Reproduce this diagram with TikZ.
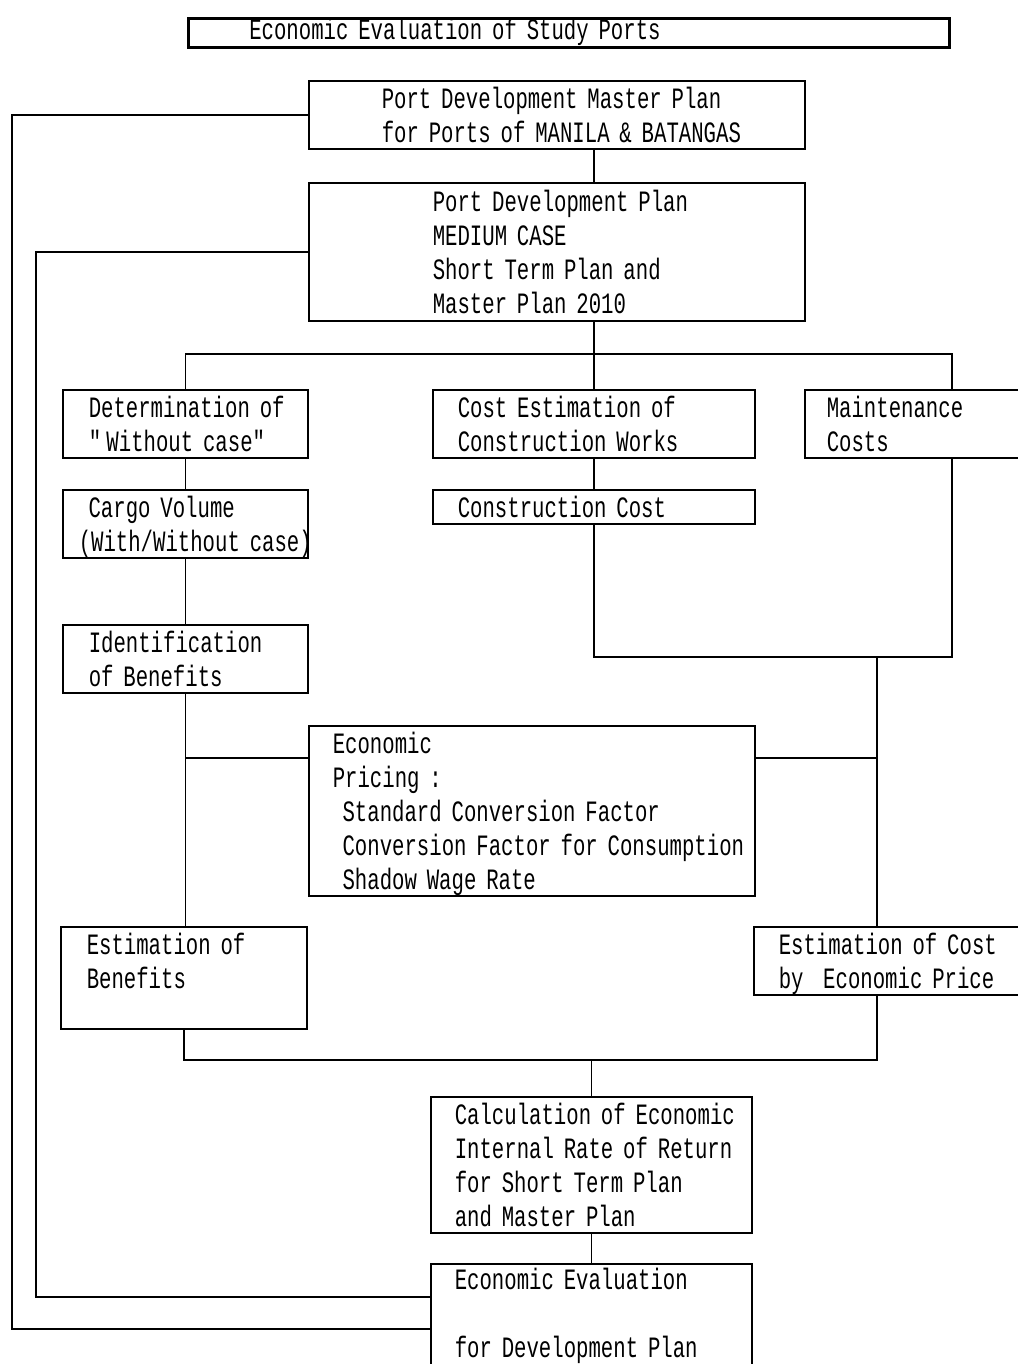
\documentclass[tikz,border=0pt]{standalone}
\usepackage{fontspec}
\setmainfont{Liberation Mono}[FakeStretch=0.7]
\usetikzlibrary{positioning}
\newcommand{\boxlines}[2][-0.8mm]{\raisebox{#1}[\height][\depth]{\begin{tabular}{@{}l@{}}#2\end{tabular}}}

\begin{document}
\begin{tikzpicture}[x=0.2mm, y=-0.2mm,
  box/.style={rectangle, draw, line width=0.3mm, inner sep=0pt, anchor=north west,
    font=\fontsize{16.8pt}{19.4pt}\selectfont},
  link/.style={line width=0.3mm},
]
\useasboundingbox (0,0) rectangle (1018,1364);
\clip (0,0) rectangle (1018,1364);

% === Title ===
\node[box, line width=0.5mm, font=\fontsize{16.8pt}{15pt}\selectfont, minimum width=152.2mm, minimum height=5.4mm, text width=127.8mm] (title) at (187,17) {\boxlines[0mm]{Economic Evaluation of Study Ports}};

% === Plans ===
\node[box, minimum width=99.2mm, minimum height=13.6mm, text width=70mm] (pdmp) at (308,80) {\boxlines{Port Development Master Plan\\for Ports of MANILA \& BATANGAS}};
\node[box, minimum width=99.2mm, minimum height=27.6mm, text width=49.6mm] (pdp) at (308,182) {\boxlines{Port Development Plan\\MEDIUM CASE\\Short Term Plan and\\Master Plan 2010}};

% === Benefit side ===
\node[box, minimum width=49mm, minimum height=13.4mm, text width=38.6mm] (det) at (62,389) {\boxlines{Determination of\\\textquotedbl Without case\textquotedbl}};
\node[box, minimum width=49mm, minimum height=13.4mm, text width=42.6mm] (cargo) at (62,489) {\boxlines{\ Cargo Volume\\(With/Without case)}};
\node[box, minimum width=49mm, minimum height=13.4mm, text width=38.6mm] (ident) at (62,624) {\boxlines{Identification\\of Benefits}};
\node[box, minimum width=49.2mm, minimum height=20.4mm, text width=38.8mm] (estben) at (60,926) {\boxlines{Estimation of\\Benefits\\\mbox{}}};

% === Cost side ===
\node[box, minimum width=64.4mm, minimum height=13.4mm, text width=54.4mm] (cost) at (432,389) {\boxlines{Cost Estimation of\\Construction Works}};
\node[box, minimum width=64.4mm, minimum height=6.8mm, text width=54.4mm] (constr) at (432,489) {\boxlines{Construction Cost}};
\node[box, minimum width=58.8mm, minimum height=13.4mm, text width=50mm] (maint) at (804,389) {\boxlines{Maintenance\\Costs}};
\node[box, minimum width=58.8mm, minimum height=13.6mm, text width=48.8mm] (estcost) at (753,926) {\boxlines{Estimation of Cost\\by\ \ Economic Price}};

% === Economic pricing ===
\node[box, minimum width=89.2mm, minimum height=33.4mm, text width=79.6mm] (pricing) at (308,725) {\boxlines{Economic\\Pricing :\\\ Standard Conversion Factor\\\ Conversion Factor for Consumption\\\ Shadow Wage Rate}};

% === Results ===
\node[box, minimum width=64.2mm, minimum height=26.8mm, text width=54.6mm] (calc) at (430,1096) {\boxlines{Calculation of Economic\\Internal Rate of Return\\for Short Term Plan\\and Master Plan}};
\node[box, minimum width=64.2mm, minimum height=21.2mm, text width=54.6mm] (eval) at (430,1263) {\boxlines[0mm]{Economic Evaluation\\ \\for Development Plan}};

% === Connectors ===
\coordinate (cjoin) at (877,657);
\coordinate (bjoin) at (calc.north |- 0,1060);
\coordinate (fbo) at (12,1329);
\coordinate (fbi) at (36,1297);

\draw[link] (pdmp.south -| cost.north) -- (pdp.north -| cost.north);
\draw[link] (pdp.south -| cost.north) -- (cost.north);
\draw[link] (det.north) |- (pdp.south |- 0,354) -| (maint.north);

\draw[link] (det.south) -- (cargo.north);
\draw[link] (cargo.south) -- (ident.north);
\draw[link] (ident.south) -- (ident.south |- estben.north);

\draw[link] (cost.south) -- (constr.north);
\draw[link] (constr.south) |- (cjoin) -| (maint.south);
\draw[link] (cjoin) -- (cjoin |- estcost.north);

\draw[link] ([yshift=-6.6mm]pricing.north west) -| (ident.south);
\draw[link] ([yshift=-6.6mm]pricing.north east) -| (cjoin);

\draw[link] (estben.south) |- (bjoin) -| (cjoin |- estcost.south);
\draw[link] (bjoin) -- (calc.north);
\draw[link] (calc.south) -- (eval.north);

% feedback to plans
\draw[link] (pdmp.west) -| (fbo) -- (fbo -| eval.west);
\draw[link] (pdp.west) -| (fbi) -- (fbi -| eval.west);
\end{tikzpicture}
\end{document}
